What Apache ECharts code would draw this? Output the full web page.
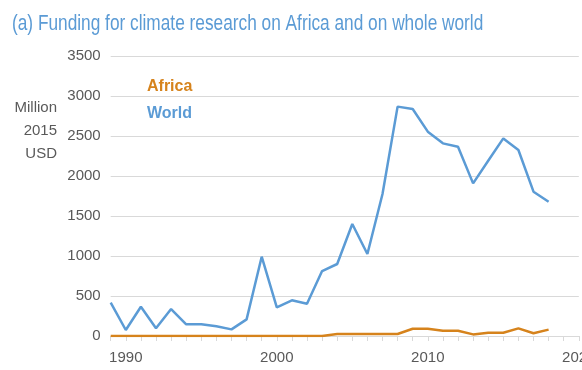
<!DOCTYPE html>
<html><head><meta charset="utf-8">
<script src="https://cdn.jsdelivr.net/npm/echarts@6/dist/echarts.min.js"></script>
<style>html,body{margin:0;padding:0;background:#fff}#c{width:582px;height:370px}</style>
</head><body><div id="c"></div>
<script>
const years = [1989,1990,1991,1992,1993,1994,1995,1996,1997,1998,1999,2000,2001,2002,2003,2004,2005,2006,2007,2008,2009,2010,2011,2012,2013,2014,2015,2016,2017,2018];
const world = [416,75,366,96,337,146,146,121,83,208,991,358,446,404,812,900,1400,1025,1775,2867,2837,2554,2408,2366,1908,2190,2470,2325,1804,1679];
const africa = [0,0,0,0,0,0,0,0,0,0,0,0,0,0,0,25,25,25,25,25,90,90,65,65,20,40,40,95,35,80];
const xTickLabels = [1990,2000,2010,2020];
const titleText = '(a) Funding for climate research on Africa and on whole world';
const yName = 'Million\n2015\nUSD';

const chart = echarts.init(document.getElementById('c'), null, {renderer:'canvas'});
const gray = '#595959';
chart.setOption({
  animation:false,
  grid:{left:110.7,right:3.2,top:56,bottom:34,containLabel:false,outerBoundsMode:'none'},
  xAxis:{type:'value',min:1989,max:2020,interval:1,
    axisLine:{lineStyle:{color:'#d9d9d9',width:1}},
    axisTick:{show:true,length:5,lineStyle:{color:'#d9d9d9'}},
    splitLine:{show:false},
    axisLabel:{color:gray,fontSize:15,fontFamily:'Liberation Sans',margin:14,hideOverlap:false,
      formatter:v=>xTickLabels.indexOf(v)>=0?String(v):''}},
  yAxis:{type:'value',min:0,max:3500,interval:500,
    axisLine:{show:false},axisTick:{show:false},
    splitLine:{lineStyle:{color:'#d9d9d9',width:1}},
    axisLabel:{color:gray,fontSize:15,fontFamily:'Liberation Sans',margin:10,formatter:v=>String(v)}},
  graphic:[
    {type:'text',x:12,y:13,scaleX:0.785,style:{text:titleText,fill:'#5b9bd5',font:'22px Liberation Sans'}},
    {type:'text',x:57,y:96,style:{text:yName,textAlign:'right',fill:gray,font:'15px Liberation Sans',lineHeight:23}},
    {type:'text',x:147,y:79,style:{text:'Africa',fill:'#d6831c',font:'bold 16px Liberation Sans'}},
    {type:'text',x:147,y:106,style:{text:'World',fill:'#5b9bd5',font:'bold 16px Liberation Sans'}}
  ],
  series:[
    {name:'World',type:'line',data:years.map((y,i)=>[y,world[i]]),showSymbol:false,lineStyle:{color:'#5b9bd5',width:2.5},itemStyle:{color:'#5b9bd5'}},
    {name:'Africa',type:'line',data:years.map((y,i)=>[y,africa[i]]),showSymbol:false,lineStyle:{color:'#d6831c',width:2.5},itemStyle:{color:'#d6831c'}}
  ]
});
</script></body></html>
